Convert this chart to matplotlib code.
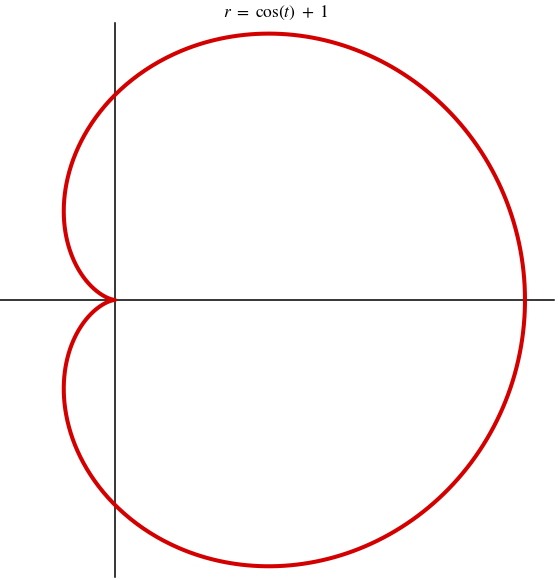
import matplotlib.pyplot as plt
import numpy as np

# r = a*cos(t) + b, as given in the title
a, b = 1.0, 1.0
n_points = 721

# visible window in data units (fig spans these)
x_lim = (-0.561, 2.161)
y_lim = (-1.366, 1.463)

# axis line extents
x_axis_span = (-0.561, 2.141)
y_axis_span = (-1.351, 1.351)

plt.rcParams['mathtext.fontset'] = 'stix'

t = np.linspace(0, 2 * np.pi, n_points)
r = a * np.cos(t) + b
x, y = r * np.cos(t), r * np.sin(t)

fig = plt.figure(figsize=(5.58, 5.80), dpi=100)
ax = fig.add_axes([0, 0, 1, 1])

# the two axes
ax.plot(x_axis_span, [0, 0], color='black', lw=1.1, zorder=1)
ax.plot([0, 0], y_axis_span, color='black', lw=1.1, zorder=1)

# cardioid
ax.plot(x, y, color='#d40000', lw=2.9, zorder=2, solid_capstyle='round')

ax.set_xlim(*x_lim)
ax.set_ylim(*y_lim)
ax.axis('off')

fig.text(0.495, 0.978, r'$r\ =\ \cos(t)\ +\ 1$', ha='center', va='center',
         fontsize=12.5)

fig.savefig('out.png', dpi=100)
